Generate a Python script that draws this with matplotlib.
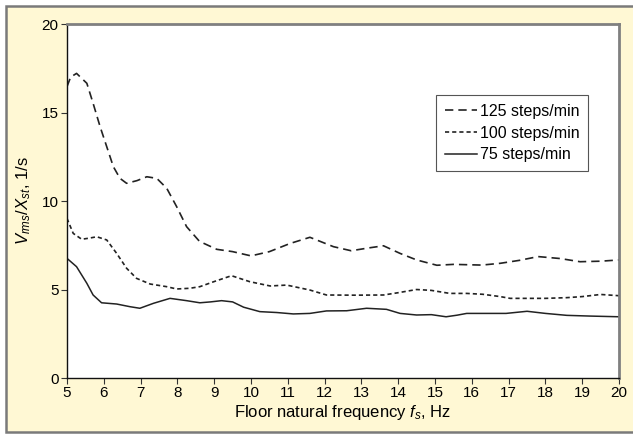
import matplotlib
matplotlib.use("Agg")
import matplotlib.pyplot as plt
from matplotlib.patches import Rectangle

plt.rcParams['font.family'] = ['Liberation Sans', 'DejaVu Sans']
plt.rcParams['mathtext.fontset'] = 'custom'
plt.rcParams['mathtext.rm'] = 'Liberation Sans'
plt.rcParams['mathtext.it'] = 'Liberation Sans:italic'

# readings taken off the reference chart
x125 = [5.0, 5.1, 5.26, 5.54, 5.71, 5.9, 6.08, 6.26, 6.44, 6.62, 6.9, 7.17, 7.44,
        7.71, 7.98, 8.25, 8.6, 9.07, 9.5, 10.0, 10.5, 11.06, 11.6, 12.24, 12.72, 13.2,
        13.6, 14.05, 14.5, 15.05, 15.5, 16.27, 16.77, 17.3, 17.8, 18.4, 18.94, 19.5, 20.0]
y125 = [16.46, 17.0, 17.21, 16.65, 15.52, 14.2, 13.07, 11.94, 11.28, 11.0, 11.15, 11.37, 11.28,
        10.72, 9.68, 8.55, 7.72, 7.27, 7.14, 6.9, 7.14, 7.6, 7.95, 7.42, 7.19, 7.35,
        7.47, 7.04, 6.67, 6.37, 6.42, 6.38, 6.48, 6.65, 6.86, 6.75, 6.57, 6.6, 6.67]

x100 = [5.0, 5.17, 5.4, 5.6, 5.81, 6.08, 6.35, 6.62, 6.89, 7.26, 7.71, 7.98, 8.34,
        8.61, 9.0, 9.47, 9.97, 10.52, 10.97, 11.6, 12.05, 12.8, 13.6, 14.0, 14.5, 14.9,
        15.4, 15.86, 16.3, 16.77, 17.04, 17.5, 18.0, 18.58, 19.0, 19.5, 20.0]
y100 = [9.02, 8.17, 7.84, 7.9, 7.98, 7.8, 7.04, 6.2, 5.63, 5.31, 5.16, 5.03, 5.07,
        5.16, 5.45, 5.78, 5.44, 5.2, 5.25, 4.97, 4.69, 4.68, 4.69, 4.82, 5.0, 4.95,
        4.78, 4.78, 4.73, 4.6, 4.5, 4.5, 4.5, 4.54, 4.6, 4.72, 4.65]

x75 = [5.0, 5.26, 5.54, 5.71, 5.94, 6.35, 6.71, 6.98, 7.35, 7.8, 8.25, 8.61,
       8.9, 9.2, 9.5, 9.8, 10.24, 10.7, 11.15, 11.6, 12.05, 12.6, 13.14, 13.68, 14.05,
       14.5, 14.9, 15.3, 15.6, 15.86, 16.4, 16.93, 17.5, 18.0, 18.58, 19.2, 20.0]
y75 = [6.76, 6.29, 5.35, 4.69, 4.25, 4.18, 4.03, 3.94, 4.22, 4.5, 4.37, 4.25,
       4.3, 4.37, 4.3, 4.0, 3.75, 3.7, 3.62, 3.65, 3.79, 3.8, 3.94, 3.88, 3.65,
       3.56, 3.58, 3.46, 3.55, 3.65, 3.65, 3.65, 3.77, 3.65, 3.54, 3.5, 3.46]

names = ["125 steps/min", "100 steps/min", "75 steps/min"]
xticks = list(range(5, 21))
yticks = [0, 5, 10, 15, 20]

bg = "#fff8d4"
fig = plt.figure(figsize=(6.33, 4.34), dpi=100, facecolor="white")
# yellow panel with grey frame, inset a little from the image edge
fig.patches.append(Rectangle((0.0095, 0.0046), 1.0, 0.9816, transform=fig.transFigure,
                             facecolor=bg, edgecolor="#7a7a7a", linewidth=1.8, zorder=-5))

ax = fig.add_axes([0.1058, 0.129, 0.8722, 0.8157])
ax.set_facecolor("white")

ax.plot(x125, y125, color="#222222", lw=1.2, dashes=(5, 3), label=names[0])
ax.plot(x100, y100, color="#222222", lw=1.2, dashes=(2.5, 1.8), label=names[1])
ax.plot(x75, y75, color="#222222", lw=1.1, label=names[2])

ax.set_xlim(5, 20)
ax.set_ylim(0, 20)
ax.set_xticks(xticks)
ax.set_yticks(yticks)
ax.tick_params(labelsize=11, length=4, width=0.8, color="#333333", pad=2)

for side in ["top", "right"]:
    ax.spines[side].set_color("#808080")
    ax.spines[side].set_linewidth(2)
for side in ["left", "bottom"]:
    ax.spines[side].set_color("#111111")
    ax.spines[side].set_linewidth(1)

ax.set_xlabel("Floor natural frequency $f_s$, Hz", fontsize=12, labelpad=2)
ax.set_ylabel("$V_{rms}/X_{st}$, 1/s", fontsize=12, labelpad=6)

leg = ax.legend(loc="upper right", bbox_to_anchor=(0.944, 0.799), borderaxespad=0,
                fontsize=11.5, fancybox=False, framealpha=1, edgecolor="#555555",
                handlelength=2.0, handletextpad=0.2, labelspacing=0.42,
                borderpad=0.55)
leg.get_frame().set_linewidth(0.8)

fig.savefig("out.png", dpi=100, facecolor="white")
